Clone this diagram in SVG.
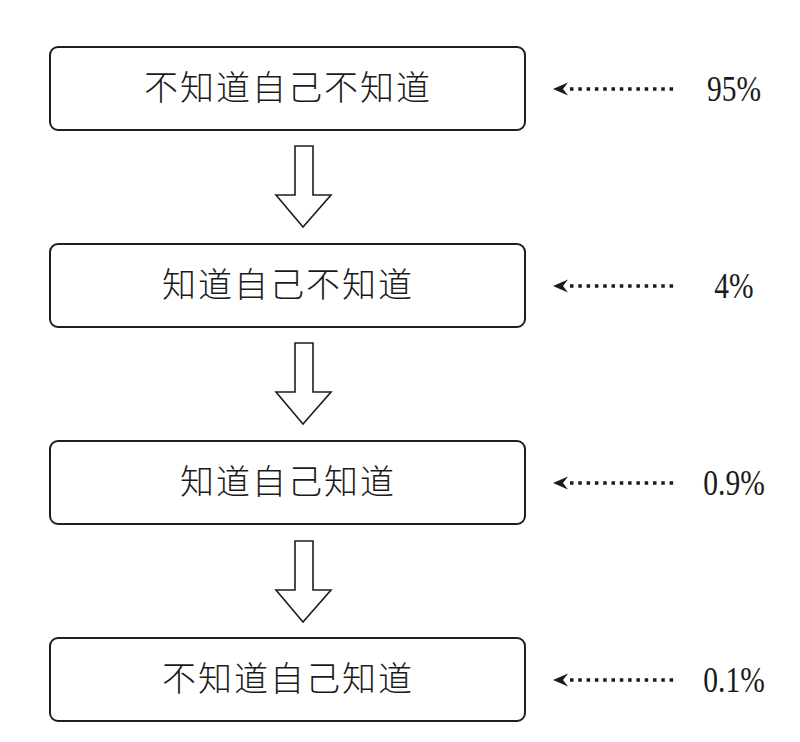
<svg xmlns="http://www.w3.org/2000/svg" width="800" height="742" viewBox="0 0 800 742">
<defs>
<style>
.box{fill:#fff;stroke:#1e1e1e;stroke-width:2}
.lbl{font-family:"Noto Sans CJK SC","Noto Sans CJK JP",sans-serif;font-size:34px;font-weight:300;fill:#1a1a1a;letter-spacing:2px;text-anchor:middle}
.pct{font-family:"Liberation Serif","DejaVu Serif",serif;font-size:36px;fill:#1a1a1a;text-anchor:middle}
.big{fill:#fff;stroke:#1e1e1e;stroke-width:1.6;stroke-linejoin:miter}
.dot{stroke:#1a1a1a;stroke-width:3.5;stroke-dasharray:3.5 4.8;fill:none}
.head{fill:#1a1a1a}
</style>
<path id="bigArrow" class="big" d="M295,146 H313 V195 H331 L303,227 L276,195 H295 Z"/>
<g id="dotArrow">
<line class="dot" x1="570" y1="0" x2="675" y2="0"/>
<path class="head" d="M553,0 L568,-6.5 L563,0 L568,6.5 Z"/>
</g>
</defs>
<rect width="800" height="742" fill="#fff"/>
<g id="connectors">
<use href="#bigArrow"/>
<use href="#bigArrow" y="197"/>
<use href="#bigArrow" y="395"/>
<use href="#dotArrow" y="89"/>
<use href="#dotArrow" y="286"/>
<use href="#dotArrow" y="483"/>
<use href="#dotArrow" y="680"/>
</g>
<g id="node1">
<rect class="box" x="50" y="47" width="475" height="83" rx="8"/>
<text class="lbl" x="288" y="100">不知道自己不知道</text>
</g>
<g id="node2">
<rect class="box" x="50" y="244" width="475" height="83" rx="8"/>
<text class="lbl" x="288" y="297">知道自己不知道</text>
</g>
<g id="node3">
<rect class="box" x="50" y="441" width="475" height="83" rx="8"/>
<text class="lbl" x="288" y="494">知道自己知道</text>
</g>
<g id="node4">
<rect class="box" x="50" y="638" width="475" height="83" rx="8"/>
<text class="lbl" x="288" y="691">不知道自己知道</text>
</g>
<g id="labels">
<text class="pct" transform="translate(734,101) scale(0.82,1)">95%</text>
<text class="pct" transform="translate(734,298) scale(0.82,1)">4%</text>
<text class="pct" transform="translate(734,495) scale(0.82,1)">0.9%</text>
<text class="pct" transform="translate(734,692) scale(0.82,1)">0.1%</text>
</g>
</svg>
